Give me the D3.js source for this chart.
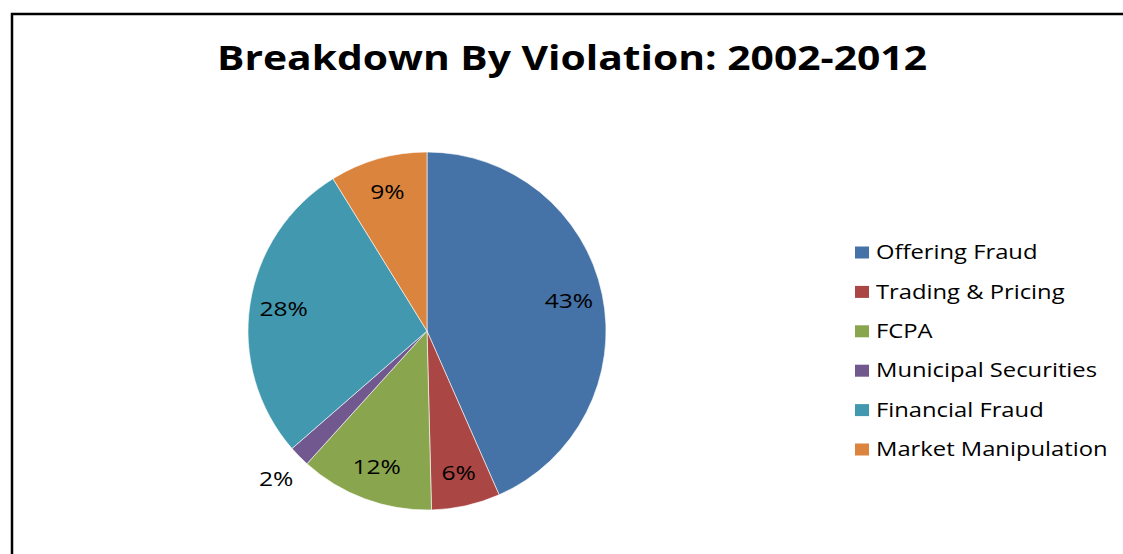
<!DOCTYPE html>
<html>
<head>
<meta charset="utf-8">
<script src="https://cdn.jsdelivr.net/npm/d3@7"></script>
<style>
  body { margin: 0; background: #fff; }
  text { font-family: "Open Sans", Lato, sans-serif; fill: #000; }
</style>
</head>
<body>
<div id="chart"></div>
<script>
// data (slice shares in %)
var categories = ['Offering Fraud', 'Trading & Pricing', 'FCPA', 'Municipal Securities', 'Financial Fraud', 'Market Manipulation']
var shares = [43.4, 6.2, 12.1, 1.9, 27.6, 8.8]
var colors = ['#4572A7', '#AA4643', '#89A54E', '#71588F', '#4198AF', '#DB843D']
var title = 'Breakdown By Violation: 2002-2012'

var width = 1123, height = 554
var cx = 427, cy = 331, radius = 179
// the original picture is stretched sideways a bit, so text gets wider glyphs

var data = categories.map(function (c, i) { return { name: c, value: shares[i] } })

var svg = d3.select('#chart').append('svg')
  .attr('width', width)
  .attr('height', height)

// chart border (runs off the right / bottom of the picture)
svg.append('rect')
  .attr('x', 12).attr('y', 14)
  .attr('width', width + 20).attr('height', height + 20)
  .attr('fill', '#fff')
  .attr('stroke', '#000')
  .attr('stroke-width', 2.5)

svg.append('text')
  .attr('transform', 'translate(572,70) scale(1.2,1)')
  .attr('text-anchor', 'middle')
  .style('font-size', '34px')
  .style('font-weight', 'bold')
  .text(title)

var color = d3.scaleOrdinal().domain(categories).range(colors)

var pie = d3.pie().sort(null).value(function (d) { return d.value })
var arc = d3.arc().innerRadius(0).outerRadius(radius)

var g = svg.append('g').attr('transform', 'translate(' + cx + ',' + cy + ')')
var arcs = pie(data)

g.selectAll('path')
  .data(arcs)
  .enter().append('path')
  .attr('d', arc)
  .attr('fill', function (d) { return color(d.data.name) })
  .attr('stroke', '#fff')
  .attr('stroke-width', 0.6)

// labels sit inside at ~0.8r, small slices go outside
function labelRadius(d) { return d.data.value < 3 ? radius * 1.18 : radius * 0.81 }

g.selectAll('.lbl')
  .data(arcs)
  .enter().append('text')
  .attr('class', 'lbl')
  .attr('transform', function (d) {
    var a = (d.startAngle + d.endAngle) / 2, r = labelRadius(d)
    return 'translate(' + (Math.sin(a) * r) + ',' + (-Math.cos(a) * r) + ') scale(1.2,1)'
  })
  .attr('text-anchor', 'middle')
  .attr('dy', '0.35em')
  .style('font-size', '20.5px')
  .text(function (d) { return Math.round(d.data.value) + '%' })

// legend
var legend = svg.append('g').attr('transform', 'translate(855,252)')
var rows = legend.selectAll('g')
  .data(categories)
  .enter().append('g')
  .attr('transform', function (d, i) { return 'translate(0,' + (i * 39.4) + ')' })

rows.append('rect')
  .attr('x', 0).attr('y', -5.5)
  .attr('width', 14).attr('height', 12)
  .attr('fill', function (d) { return color(d) })

rows.append('text')
  .attr('transform', 'translate(21,0) scale(1.16,1)')
  .attr('dy', '0.35em')
  .style('font-size', '20.5px')
  .text(function (d) { return d })
</script>
</body>
</html>
